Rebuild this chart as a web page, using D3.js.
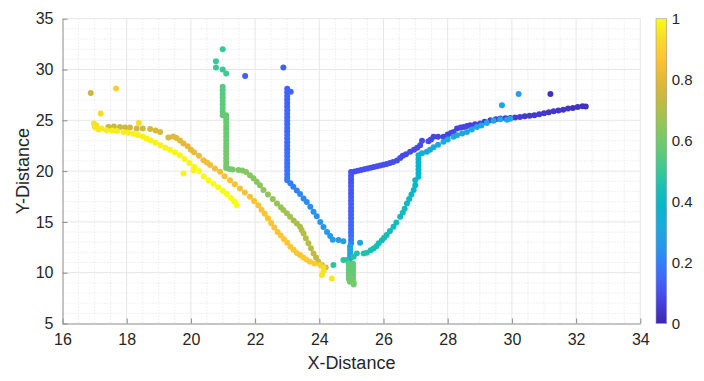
<!DOCTYPE html>
<html><head><meta charset="utf-8">
<script src="https://cdn.jsdelivr.net/npm/d3@7"></script>
<style>
body{margin:0;background:#fff;}
text{font-family:"Liberation Sans",Arial,Helvetica,sans-serif;fill:#262626;}
</style>
</head><body>
<svg id="chart" width="704" height="381"></svg>
<script>
// ---------- tick labels ----------
const xTicks = [16,18,20,22,24,26,28,30,32,34];
const yTicks = [5,10,15,20,25,30,35];
const cTicks = [0,0.2,0.4,0.6,0.8,1];
const cTickLabels = ["0","0.2","0.4","0.6","0.8","1"];

// ---------- data: [x, y, colourValue] ----------
const trackYellow = [
 [16.98,24.68,.95],[17.01,24.35,.95],[17.06,24.5,.95],[17.12,24.1,.96],[17.22,24.2,.96],[17.38,24.03,.97],
 [17.55,24.0,.97],[17.7,23.95,.97],[17.9,23.86,.97],[18.05,23.78,.97],[18.2,23.68,.98],[18.35,23.55,.98],
 [18.5,23.4,.98],[18.62,23.2,.98],[18.75,23.0,.98],[18.9,22.8,.98],[19.05,22.55,.98],[19.2,22.3,.99],
 [19.35,22.1,.99],[19.5,21.85,.99],[19.65,21.55,.99],[19.8,21.2,.99],[19.95,20.8,.99],[20.1,20.4,.99],
 [20.25,20.0,1],[20.4,19.5,1],[20.55,19.1,1],[20.7,18.75,1],[20.85,18.4,1],[21.0,18.05,1],[21.12,17.75,1],
 [21.25,17.35,1],[21.35,17.0,1],[21.43,16.65,1]
];
const strayYellow = [
 [19.77,19.77,.99],[20.08,20.09,.99],[18.38,24.74,.93],[17.19,25.67,.93],[17.67,28.13,.9],[16.88,27.69,.75],
 [24.39,9.44,.96],[24.08,9.77,.95]
];
const trackGold = [
 [17.43,24.35,.75],[17.6,24.38,.75],[17.79,24.35,.75],[17.95,24.3,.75],[18.1,24.28,.76],[18.31,24.2,.76],
 [18.5,24.2,.76],[18.73,24.15,.77],[18.9,24.0,.77],[19.04,23.86,.77],[19.3,23.3,.78],
 [19.45,23.4,.79],[19.55,23.25,.79],[19.66,23.0,.8],[19.77,22.72,.8],[19.9,22.45,.81],[20.0,22.1,.81],
 [20.1,21.85,.82],[20.25,21.5,.83],[20.39,21.08,.84],[20.5,20.85,.84],[20.6,20.59,.85],[20.75,20.25,.85],
 [20.91,19.93,.85],[21.05,19.5,.86],[21.22,19.11,.86],[21.37,18.7,.86],[21.53,18.29,.86],[21.68,17.9,.86],
 [21.84,17.47,.86],[21.97,17.05,.86],[22.1,16.65,.87],[22.2,16.2,.87],[22.3,15.8,.87],[22.4,15.35,.87],
 [22.5,14.9,.87],[22.6,14.45,.87],[22.7,14.0,.87],[22.8,13.65,.88],[22.9,13.3,.88],[23.0,12.95,.88],
 [23.1,12.55,.88],[23.2,12.25,.88],[23.3,11.95,.88],[23.4,11.74,.88],[23.5,11.5,.89],[23.6,11.3,.89],
 [23.71,11.08,.89],[23.85,10.9,.89],[24.03,10.75,.9],[24.13,10.5,.93],[24.13,10.15,.95]
];
const trackGreen = [
 [20.99,32.0,.5],[20.78,30.8,.5],[20.78,30.2,.5],[20.99,30.0,.5],[21.1,29.6,.52],
 [20.99,28.3,.55],[20.99,27.95,.55],[20.99,27.6,.55],[20.99,27.25,.56],[20.99,26.9,.56],[20.99,26.55,.56],
 [20.99,26.2,.57],[20.99,25.85,.57],[20.99,25.5,.57],
 [21.1,25.5,.58],[21.1,25.15,.58],[21.1,24.8,.58],[21.1,24.45,.58],[21.1,24.1,.58],[21.1,23.75,.59],
 [21.1,23.4,.59],[21.1,23.05,.59],[21.1,22.7,.59],[21.1,22.35,.59],[21.1,22.0,.6],[21.1,21.65,.6],
 [21.1,21.3,.6],[21.1,20.95,.6],[21.1,20.6,.6],[21.1,20.3,.6],[21.2,20.2,.6],[21.3,20.15,.6],
 [21.48,20.1,.62],[21.6,20.05,.62],[21.72,19.9,.63],[21.84,19.6,.63],[21.95,19.3,.63],[22.05,18.94,.64],
 [22.15,18.6,.64],[22.26,18.13,.65],[22.4,17.7,.65],[22.55,17.25,.66],[22.68,16.82,.66],[22.8,16.45,.67],
 [22.88,16.16,.67],[22.99,15.84,.68],[23.09,15.5,.68],[23.2,15.15,.69],[23.3,14.85,.69],[23.4,14.52,.7],
 [23.45,14.2,.7],[23.51,13.87,.71],[23.58,13.4,.71],[23.66,12.89,.72],[23.74,12.4,.72],[23.82,11.9,.73],
 [23.9,11.5,.74],[23.97,11.08,.74],[24.08,10.75,.76],[24.2,10.5,.78]
];
const trackBlue = [
 [21.69,29.37,.13],[22.88,30.2,.13],[23.11,27.8,.14],
 [23.0,28.1,.14],[23.0,27.75,.14],[23.0,27.4,.14],[23.0,27.05,.14],[23.0,26.7,.14],[23.0,26.35,.14],
 [23.0,26.0,.15],[23.0,25.65,.15],[23.0,25.3,.15],[23.0,24.95,.15],[23.0,24.6,.15],[23.0,24.25,.15],
 [23.0,23.9,.15],[23.0,23.55,.16],[23.0,23.2,.16],[23.0,22.85,.16],[23.0,22.5,.16],[23.0,22.15,.16],
 [23.0,21.8,.17],[23.0,21.45,.17],[23.0,21.1,.17],[23.0,20.75,.17],[23.0,20.4,.17],[23.0,20.05,.18],
 [23.0,19.7,.18],[23.0,19.35,.18],[23.0,19.1,.19],
 [23.1,18.8,.2],[23.19,18.45,.21],[23.3,18.1,.21],[23.4,17.75,.22],[23.51,17.3,.22],[23.61,16.95,.23],
 [23.72,16.5,.23],[23.82,16.0,.24],[23.92,15.55,.24],[24.03,15.0,.25],[24.13,14.5,.25],[24.24,14.0,.26],
 [24.34,13.6,.26],[24.42,13.25,.27],[24.6,13.21,.27],[24.75,13.1,.28],[25.27,12.95,.3]
];
const trackPurple = [
 [24.99,19.9,.1],[24.99,19.55,.11],[24.99,19.2,.11],[24.99,18.85,.11],[24.99,18.5,.12],[24.99,18.15,.12],
 [24.99,17.8,.12],[24.99,17.45,.12],[24.99,17.1,.13],[24.99,16.75,.13],[24.99,16.4,.13],[24.99,16.05,.14],
 [24.99,15.7,.14],[24.99,15.35,.14],[24.99,15.0,.15],[24.99,14.65,.15],[24.99,14.3,.16],[24.99,13.95,.16],
 [24.99,13.6,.17],[24.99,13.25,.18],[24.99,12.9,.2],[24.96,12.6,.28],[24.96,12.3,.29],[24.96,12.0,.3],
 [24.96,11.7,.3],[24.96,11.4,.31],
 [25.1,19.95,.1],[25.2,20.03,.1],[25.3,20.1,.1],[25.4,20.18,.1],[25.5,20.25,.1],[25.6,20.33,.1],
 [25.7,20.4,.1],[25.8,20.48,.1],[25.9,20.55,.1],[26.0,20.63,.1],[26.1,20.7,.1],[26.2,20.8,.1],
 [26.3,20.9,.1],[26.42,21.05,.1],[26.52,21.3,.1],[26.6,21.5,.09],[26.7,21.65,.09],[26.83,21.9,.09],
 [26.95,22.1,.09],[27.05,22.3,.09],[27.14,22.55,.09],[27.2,22.98,.09],[27.4,22.95,.09],[27.48,23.1,.09],
 [27.56,23.37,.08],[27.7,23.37,.08],[27.87,23.37,.08],[28.0,23.6,.08],[28.1,23.75,.08],[28.18,23.86,.08],
 [28.29,24.19,.08],[28.4,24.3,.08],[28.5,24.35,.08],[28.6,24.45,.08],[28.7,24.52,.07],[28.85,24.6,.07],
 [29.01,24.68,.07],[29.15,24.85,.07],[29.33,25.0,.07],[29.5,25.1,.07],[29.64,25.18,.06],[29.8,25.2,.06],
 [29.95,25.22,.06],[30.1,25.28,.06],[30.25,25.33,.06],[30.4,25.4,.05],[30.55,25.45,.05],[30.7,25.5,.05],
 [30.85,25.6,.05],[31.0,25.7,.05],[31.15,25.8,.04],[31.3,25.88,.04],[31.45,25.97,.04],[31.6,26.05,.04],
 [31.75,26.15,.04],[31.9,26.22,.03],[32.05,26.3,.03],[32.2,26.38,.03],[32.3,26.35,.03],[31.2,27.6,.03]
];
const clusterTeal = [
 [24.92,10.9,.56],[25.05,10.9,.56],[24.92,10.6,.57],[25.05,10.6,.57],[24.92,10.3,.57],[25.05,10.3,.57],
 [24.92,10.0,.58],[25.05,10.0,.58],[24.92,9.7,.58],[25.05,9.7,.58],[24.92,9.4,.59],[25.05,9.4,.59],
 [24.95,9.1,.59],[25.07,9.0,.6],[25.07,8.85,.6]
];
const trackCyan = [
 [24.44,10.75,.48],[24.75,11.24,.48],[24.86,11.24,.47],[25.07,11.57,.47],[25.17,11.9,.46],[25.38,11.9,.46],
 [25.48,11.96,.46],[25.6,12.2,.45],[25.69,12.39,.45],[25.78,12.6,.44],[25.85,12.89,.44],[25.95,13.2,.43],
 [26.02,13.45,.43],[26.1,13.7,.43],[26.2,14.1,.42],[26.31,14.52,.42],[26.4,14.95,.42],[26.52,15.5,.41],
 [26.6,15.9,.41],[26.66,16.3,.41],[26.73,16.82,.4],[26.8,17.25,.4],[26.87,17.7,.4],[26.94,18.13,.39],
 [26.99,18.6,.39],[26.99,19.1,.39],[27.09,19.45,.38],[27.09,19.8,.38],[27.09,20.15,.38],[27.09,20.5,.37],
 [27.09,20.85,.37],[27.09,21.2,.36],[27.09,21.55,.36],[27.2,21.75,.34],[27.35,21.9,.34],[27.45,22.1,.33],
 [27.56,22.35,.33],[27.7,22.6,.32],[27.87,22.88,.32],[28.0,23.1,.31],[28.18,23.37,.31],[28.29,23.53,.31],
 [28.45,23.7,.3],[28.6,23.86,.3],[28.75,24.1,.3],[28.91,24.35,.3],[29.05,24.5,.3],[29.22,24.74,.3],
 [29.43,24.95,.3],[29.64,25.11,.3],[29.85,25.05,.3],[29.95,25.15,.3],[29.69,26.49,.29],[30.21,27.6,.28]
];

// ---------- parula colormap (style) ----------
const parulaStops = [
 [0.2422,0.1504,0.6603],[0.2691,0.2392,0.8637],[0.2758,0.3580,0.9728],[0.2104,0.4694,0.9953],
 [0.1540,0.5902,0.9218],[0.1098,0.6627,0.8819],[0.0282,0.7098,0.8029],[0.0806,0.7472,0.7166],
 [0.2161,0.7843,0.5923],[0.3681,0.7919,0.4771],[0.5113,0.7830,0.3837],[0.6582,0.7557,0.2975],
 [0.7974,0.7242,0.2363],[0.9157,0.7265,0.2096],[0.9937,0.7723,0.2041],[0.9627,0.8693,0.1501],
 [0.9769,0.9839,0.0805]
];
const parulaColors = parulaStops.map(c => d3.rgb(c[0]*255, c[1]*255, c[2]*255));
const color = d3.scaleLinear()
  .domain(parulaColors.map((_, i) => i / (parulaColors.length - 1)))
  .range(parulaColors)
  .interpolate(d3.interpolateRgb)
  .clamp(true);

// ---------- layout ----------
const svg = d3.select("#chart");
const L = 62.5, R = 640.3, T = 18.7, B = 323.5;
const x = d3.scaleLinear().domain([16, 34]).range([L, R]);
const y = d3.scaleLinear().domain([5, 35]).range([B, T]);
const cScale = d3.scaleLinear().domain([0, 1]).range([B, T]);

// grid: minor
const g = svg.append("g");
g.selectAll(".mx").data(d3.range(16.5, 34, 0.5).filter(v => v % 2 !== 0)).join("line")
  .attr("x1", d => x(d)).attr("x2", d => x(d)).attr("y1", T).attr("y2", B)
  .attr("stroke", "#e3e3e3").attr("stroke-width", 1).attr("stroke-dasharray", "1,2");
g.selectAll(".my").data(d3.range(6, 35, 1).filter(v => v % 5 !== 0)).join("line")
  .attr("x1", L).attr("x2", R).attr("y1", d => y(d)).attr("y2", d => y(d))
  .attr("stroke", "#e3e3e3").attr("stroke-width", 1).attr("stroke-dasharray", "1,2");
// grid: major
g.selectAll(".gx").data(xTicks.slice(1)).join("line")
  .attr("x1", d => x(d)).attr("x2", d => x(d)).attr("y1", T).attr("y2", B)
  .attr("stroke", "#e6e6e6").attr("stroke-width", 1);
g.selectAll(".gy").data(yTicks.slice(1)).join("line")
  .attr("x1", L).attr("x2", R).attr("y1", d => y(d)).attr("y2", d => y(d))
  .attr("stroke", "#e6e6e6").attr("stroke-width", 1);

// points
const tracks = [trackPurple, trackCyan, clusterTeal, trackBlue, trackGreen, trackGold, trackYellow, strayYellow];
const pts = svg.append("g");
tracks.forEach(tr => {
  pts.append("g").selectAll("circle").data(tr).join("circle")
    .attr("cx", d => x(d[0])).attr("cy", d => y(d[1])).attr("r", 3)
    .attr("fill", d => color(d[2]));
});

// axes
const xAxis = d3.axisBottom(x).tickValues(xTicks).tickSizeInner(-5).tickSizeOuter(0).tickPadding(10);
const yAxis = d3.axisLeft(y).tickValues(yTicks).tickSizeInner(-5).tickSizeOuter(0).tickPadding(9);
const gx = svg.append("g").attr("transform", `translate(0,${B})`).call(xAxis);
const gy = svg.append("g").attr("transform", `translate(${L},0)`).call(yAxis);
[gx, gy].forEach(a => {
  a.select(".domain").attr("stroke", "#8a8a8a");
  a.selectAll(".tick line").attr("stroke", "#8a8a8a");
  a.selectAll(".tick text").style("font-size", "16px").attr("fill", "#262626")
   .style("font-family", "'Liberation Sans', Arial, sans-serif");
});

// axis titles
svg.append("text").attr("x", (L + R) / 2).attr("y", 369).attr("text-anchor", "middle")
  .style("font-size", "18px").text("X-Distance");
svg.append("text").attr("transform", `translate(29,${(T + B) / 2}) rotate(-90)`)
  .attr("text-anchor", "middle").style("font-size", "18px").text("Y-Distance");

// colorbar
const defs = svg.append("defs");
const grad = defs.append("linearGradient").attr("id", "cbar").attr("x1", 0).attr("y1", 1).attr("x2", 0).attr("y2", 0);
d3.range(0, 1.0001, 0.02).forEach(t => grad.append("stop").attr("offset", t).attr("stop-color", color(t)));
const cbL = 656, cbW = 10.7;
svg.append("rect").attr("x", cbL).attr("y", T).attr("width", cbW).attr("height", B - T)
  .attr("fill", "url(#cbar)").attr("stroke", "#9a9a9a").attr("stroke-width", 0.6);
const cb = svg.append("g");
cb.selectAll("text").data(cTicks).join("text")
  .attr("x", cbL + cbW + 5).attr("y", d => cScale(d)).attr("dy", "0.35em")
  .style("font-size", "15px").text((d, i) => cTickLabels[i]);
</script>
</body></html>
